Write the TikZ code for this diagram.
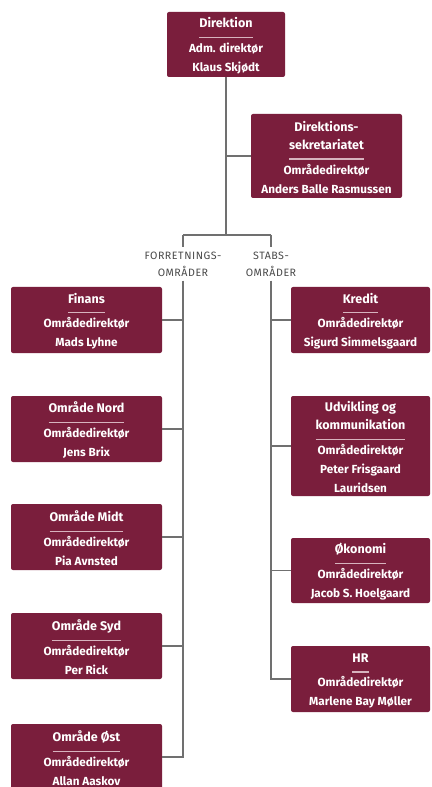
\documentclass[tikz,border=0pt]{standalone}
\usepackage{fontspec}
\setmainfont{Fira Sans}
\newfontfamily\lblfont[LetterSpace=5]{Fira Sans}
\usepackage{xcolor}
\usetikzlibrary{positioning, calc}

\definecolor{orgred}{HTML}{7A1E3C}
\definecolor{orgline}{HTML}{707070}
\definecolor{orgsep}{HTML}{D7B3BE}
\definecolor{orglabel}{HTML}{4A4A4A}

% title of a unit with a thin rule under it
\newsavebox{\headbox}
\newlength{\headwd}
\newcommand{\unithead}[1]{%
  \sbox{\headbox}{\fontsize{9.4}{13.5}\selectfont\bfseries\begin{tabular}[b]{@{}c@{}}#1\end{tabular}}%
  \global\headwd=\wd\headbox
  \leavevmode\usebox{\headbox}\\[-6.5pt]\leavevmode{\color{orgsep}\rule{\headwd}{0.9pt}}\\[-3.5pt]}

\begin{document}
\begin{tikzpicture}[x=0.75pt, y=-0.75pt,
    unit/.style={fill=orgred, rounded corners=1.5pt, text=white, align=center, inner sep=2pt,
      font=\fontsize{8.8}{14.25}\selectfont\bfseries},
    conn/.style={draw=orgline, line width=0.8pt},
    lbl/.style={text=orglabel, align=center, inner sep=3pt, font=\fontsize{8}{12.75}\lblfont}]
      \useasboundingbox[fill=white] (0,0) rectangle (431,787);

      \node[unit, minimum width=88.5pt, minimum height=48.75pt] (dir) at (226,44.5) {\unithead{Direktion}Adm. direktør\\Klaus Skjødt};
      \node[unit, minimum width=113.25pt, minimum height=63pt] (sek) at (326.5,156) {\unithead{Direktions-\\sekretariatet}Områdedirektør\\Anders Balle Rasmussen};

      \coordinate (split) at (226,235);
      \coordinate (lft) at (183,235);
      \coordinate (rgt) at (271,235);
      \node[lbl] (forr) at (183,264) {FORRETNINGS-\\OMRÅDER};
      \node[lbl] (stabs) at (271,264) {STABS-\\OMRÅDER};

      % forretningsomraader
      \node[unit, minimum width=113.25pt, minimum height=49.5pt] (fin) at (86.5,320) {\unithead{Finans}Områdedirektør\\Mads Lyhne};
      \node[unit, minimum width=113.25pt, minimum height=49.5pt] (nord) at (86.5,429) {\unithead{Område Nord}Områdedirektør\\Jens Brix};
      \node[unit, minimum width=113.25pt, minimum height=49.5pt] (midt) at (86.5,537) {\unithead{Område Midt}Områdedirektør\\Pia Avnsted};
      \node[unit, minimum width=113.25pt, minimum height=49.5pt] (syd) at (86.5,646) {\unithead{Område Syd}Områdedirektør\\Per Rick};
      \node[unit, minimum width=113.25pt, minimum height=49.5pt] (ost) at (86.5,757) {\unithead{Område Øst}Områdedirektør\\Allan Aaskov};

      % stabsomraader
      \node[unit, minimum width=104.25pt, minimum height=49.5pt] (kred) at (360.5,320) {\unithead{Kredit}Områdedirektør\\Sigurd Simmelsgaard};
      \node[unit, minimum width=104.25pt, minimum height=75pt] (udv) at (360.5,446) {\unithead{Udvikling og\\kommunikation}Områdedirektør\\Peter Frisgaard\\Lauridsen};
      \node[unit, minimum width=104.25pt, minimum height=48.75pt] (oek) at (360.5,570.5) {\unithead{Økonomi}Områdedirektør\\Jacob S. Hoelgaard};
      \node[unit, minimum width=104.25pt, minimum height=49.5pt] (hr) at (360.5,679) {\unithead{HR}Områdedirektør\\Marlene Bay Møller};

      \draw[conn] (dir.south) -- (split);
      \draw[conn] (sek.west) -- (sek.west -| split);
      \draw[conn] (lft) -- (rgt);
      \draw[conn] (lft) -- (forr.north);
      \draw[conn] (rgt) -- (stabs.north);
      \draw[conn] (forr.south) |- (ost.east);
      \draw[conn] (stabs.south) |- (hr.west);
      \foreach \n in {fin,nord,midt,syd}
        \draw[conn] (\n.east) -- (\n.east -| forr.south);
      \foreach \n in {kred,udv,oek}
        \draw[conn] (\n.west) -- (\n.west -| stabs.south);
    \end{tikzpicture}
\end{document}
